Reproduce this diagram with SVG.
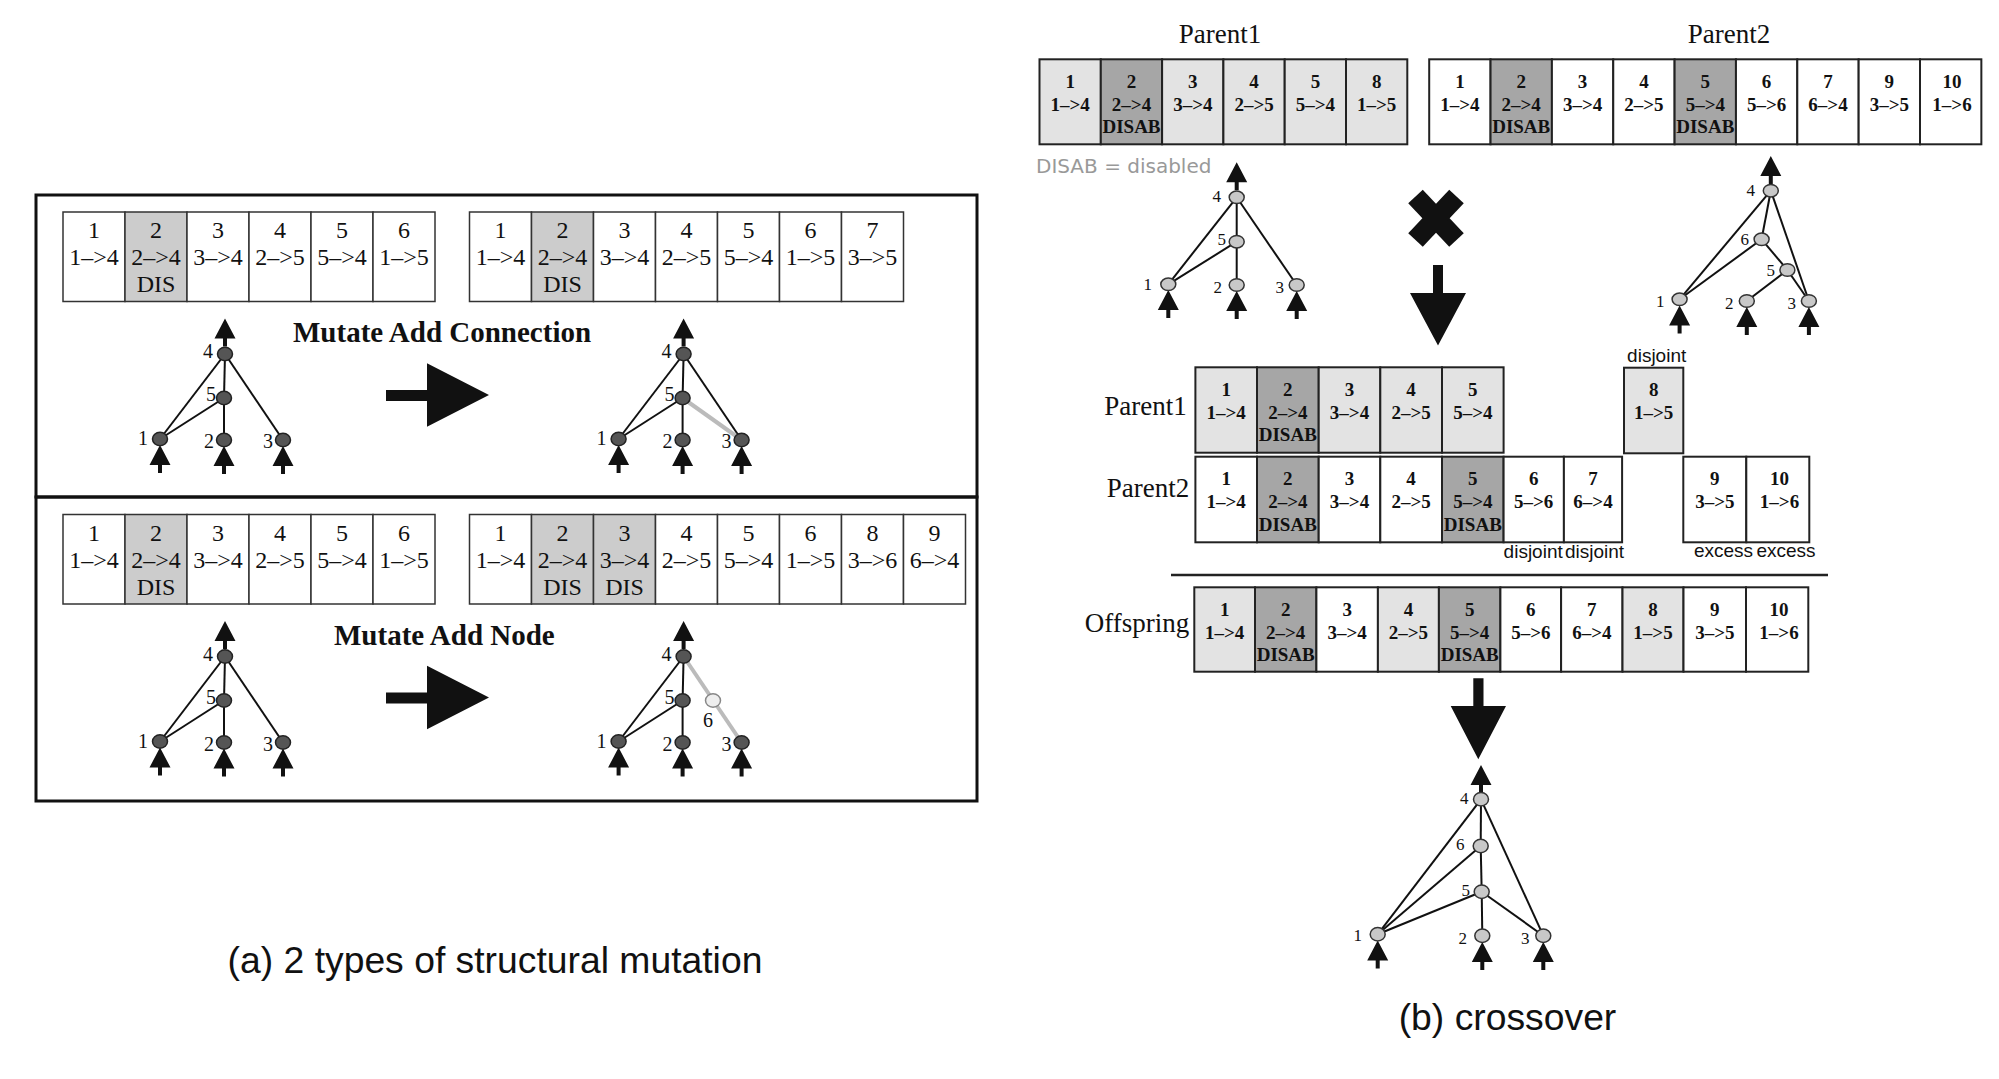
<svg xmlns="http://www.w3.org/2000/svg" xmlns:xlink="http://www.w3.org/1999/xlink" width="1999" height="1079" viewBox="0 0 1999 1079">
<style>
.bg{fill:#fff}
.cl{stroke:#333;stroke-width:1.5}
.cr{stroke:#222;stroke-width:2}
.w{fill:#fff}.g{fill:#ccc}.lg{fill:#e3e3e3}.dg{fill:#a6a6a6}
.tl{font-family:"Liberation Serif",serif;font-size:24px;text-anchor:middle;fill:#111}
.tr{font-family:"Liberation Serif",serif;font-weight:bold;font-size:19px;text-anchor:middle;fill:#111}
.ttl{font-family:"Liberation Serif",serif;font-size:27px;text-anchor:middle;fill:#111}
.mut{font-family:"Liberation Serif",serif;font-weight:bold;font-size:29px;fill:#111}
.nl{font-family:"Liberation Serif",serif;font-size:20px;text-anchor:end;fill:#111}
.nr{font-family:"Liberation Serif",serif;font-size:17px;text-anchor:end;fill:#111}
.lab{font-family:"Liberation Sans",Arial,sans-serif;font-size:19px;text-anchor:middle;fill:#111}
.cap{font-family:"Liberation Sans",Arial,sans-serif;font-size:37.3px;text-anchor:middle;fill:#111}
.e{stroke:#111;stroke-width:2;fill:none}
.ge{stroke:#bbb;stroke-width:4;fill:none}
.nd{fill:#555;stroke:#222;stroke-width:1.5}
.nn{fill:#eee;stroke:#888;stroke-width:1.5}
.ng{fill:#c8c8c8;stroke:#333;stroke-width:1.5}
.k{fill:#111}
</style>
<defs>
<path id="ua" d="M0,0 L10.5,20 L2,20 L2,28 L-2,28 L-2,20 L-10.5,20 Z" fill="#111"/>
</defs>
<rect class="bg" x="0" y="0" width="1999" height="1079"/>

<!-- LEFT PANEL frame -->
<g id="frame-a" fill="none" stroke="#111" stroke-width="3">
<rect x="36" y="195" width="941" height="302"/>
<rect x="36" y="497" width="941" height="304"/>
</g>

<!-- Left top genome A -->
<g id="genome-a1">
<rect class="cl w" x="63" y="212" width="62" height="89.5"/>
<rect class="cl g" x="125" y="212" width="62" height="89.5"/>
<rect class="cl w" x="187" y="212" width="62" height="89.5"/>
<rect class="cl w" x="249" y="212" width="62" height="89.5"/>
<rect class="cl w" x="311" y="212" width="62" height="89.5"/>
<rect class="cl w" x="373" y="212" width="62" height="89.5"/>
<text class="tl" x="94" y="238">1</text><text class="tl" x="94" y="265">1–&gt;4</text>
<text class="tl" x="156" y="238">2</text><text class="tl" x="156" y="265">2–&gt;4</text><text class="tl" x="156" y="292">DIS</text>
<text class="tl" x="218" y="238">3</text><text class="tl" x="218" y="265">3–&gt;4</text>
<text class="tl" x="280" y="238">4</text><text class="tl" x="280" y="265">2–&gt;5</text>
<text class="tl" x="342" y="238">5</text><text class="tl" x="342" y="265">5–&gt;4</text>
<text class="tl" x="404" y="238">6</text><text class="tl" x="404" y="265">1–&gt;5</text>
</g>

<!-- Left top genome B -->
<g id="genome-a2">
<rect class="cl w" x="469.5" y="212" width="62" height="89.5"/>
<rect class="cl g" x="531.5" y="212" width="62" height="89.5"/>
<rect class="cl w" x="593.5" y="212" width="62" height="89.5"/>
<rect class="cl w" x="655.5" y="212" width="62" height="89.5"/>
<rect class="cl w" x="717.5" y="212" width="62" height="89.5"/>
<rect class="cl w" x="779.5" y="212" width="62" height="89.5"/>
<rect class="cl w" x="841.5" y="212" width="62" height="89.5"/>
<text class="tl" x="500.5" y="238">1</text><text class="tl" x="500.5" y="265">1–&gt;4</text>
<text class="tl" x="562.5" y="238">2</text><text class="tl" x="562.5" y="265">2–&gt;4</text><text class="tl" x="562.5" y="292">DIS</text>
<text class="tl" x="624.5" y="238">3</text><text class="tl" x="624.5" y="265">3–&gt;4</text>
<text class="tl" x="686.5" y="238">4</text><text class="tl" x="686.5" y="265">2–&gt;5</text>
<text class="tl" x="748.5" y="238">5</text><text class="tl" x="748.5" y="265">5–&gt;4</text>
<text class="tl" x="810.5" y="238">6</text><text class="tl" x="810.5" y="265">1–&gt;5</text>
<text class="tl" x="872.5" y="238">7</text><text class="tl" x="872.5" y="265">3–&gt;5</text>
</g>

<!-- Left bottom genome A -->
<g id="genome-a3">
<rect class="cl w" x="63" y="514.5" width="62" height="89.5"/>
<rect class="cl g" x="125" y="514.5" width="62" height="89.5"/>
<rect class="cl w" x="187" y="514.5" width="62" height="89.5"/>
<rect class="cl w" x="249" y="514.5" width="62" height="89.5"/>
<rect class="cl w" x="311" y="514.5" width="62" height="89.5"/>
<rect class="cl w" x="373" y="514.5" width="62" height="89.5"/>
<text class="tl" x="94" y="540.5">1</text><text class="tl" x="94" y="567.5">1–&gt;4</text>
<text class="tl" x="156" y="540.5">2</text><text class="tl" x="156" y="567.5">2–&gt;4</text><text class="tl" x="156" y="594.5">DIS</text>
<text class="tl" x="218" y="540.5">3</text><text class="tl" x="218" y="567.5">3–&gt;4</text>
<text class="tl" x="280" y="540.5">4</text><text class="tl" x="280" y="567.5">2–&gt;5</text>
<text class="tl" x="342" y="540.5">5</text><text class="tl" x="342" y="567.5">5–&gt;4</text>
<text class="tl" x="404" y="540.5">6</text><text class="tl" x="404" y="567.5">1–&gt;5</text>
</g>

<!-- Left bottom genome B -->
<g id="genome-a4">
<rect class="cl w" x="469.5" y="514.5" width="62" height="89.5"/>
<rect class="cl g" x="531.5" y="514.5" width="62" height="89.5"/>
<rect class="cl g" x="593.5" y="514.5" width="62" height="89.5"/>
<rect class="cl w" x="655.5" y="514.5" width="62" height="89.5"/>
<rect class="cl w" x="717.5" y="514.5" width="62" height="89.5"/>
<rect class="cl w" x="779.5" y="514.5" width="62" height="89.5"/>
<rect class="cl w" x="841.5" y="514.5" width="62" height="89.5"/>
<rect class="cl w" x="903.5" y="514.5" width="62" height="89.5"/>
<text class="tl" x="500.5" y="540.5">1</text><text class="tl" x="500.5" y="567.5">1–&gt;4</text>
<text class="tl" x="562.5" y="540.5">2</text><text class="tl" x="562.5" y="567.5">2–&gt;4</text><text class="tl" x="562.5" y="594.5">DIS</text>
<text class="tl" x="624.5" y="540.5">3</text><text class="tl" x="624.5" y="567.5">3–&gt;4</text><text class="tl" x="624.5" y="594.5">DIS</text>
<text class="tl" x="686.5" y="540.5">4</text><text class="tl" x="686.5" y="567.5">2–&gt;5</text>
<text class="tl" x="748.5" y="540.5">5</text><text class="tl" x="748.5" y="567.5">5–&gt;4</text>
<text class="tl" x="810.5" y="540.5">6</text><text class="tl" x="810.5" y="567.5">1–&gt;5</text>
<text class="tl" x="872.5" y="540.5">8</text><text class="tl" x="872.5" y="567.5">3–&gt;6</text>
<text class="tl" x="934.5" y="540.5">9</text><text class="tl" x="934.5" y="567.5">6–&gt;4</text>
</g>

<text id="t-mac" class="mut" x="293" y="342">Mutate Add Connection</text>
<text id="t-man" class="mut" x="334" y="644.5">Mutate Add Node</text>

<!-- RIGHT PANEL genomes -->
<text class="ttl" x="1220" y="43">Parent1</text>
<text class="ttl" x="1729" y="43">Parent2</text>
<g id="genome-p1">
<rect class="cr lg" x="1039.5" y="59.3" width="61.3" height="85"/>
<rect class="cr dg" x="1100.8" y="59.3" width="61.3" height="85"/>
<rect class="cr lg" x="1162.1" y="59.3" width="61.3" height="85"/>
<rect class="cr lg" x="1223.4" y="59.3" width="61.3" height="85"/>
<rect class="cr lg" x="1284.7" y="59.3" width="61.3" height="85"/>
<rect class="cr lg" x="1346" y="59.3" width="61.3" height="85"/>
<text class="tr" x="1070.2" y="88">1</text><text class="tr" x="1070.2" y="110.5">1–&gt;4</text>
<text class="tr" x="1131.5" y="88">2</text><text class="tr" x="1131.5" y="110.5">2–&gt;4</text><text class="tr" x="1131.5" y="133">DISAB</text>
<text class="tr" x="1192.8" y="88">3</text><text class="tr" x="1192.8" y="110.5">3–&gt;4</text>
<text class="tr" x="1254.1" y="88">4</text><text class="tr" x="1254.1" y="110.5">2–&gt;5</text>
<text class="tr" x="1315.4" y="88">5</text><text class="tr" x="1315.4" y="110.5">5–&gt;4</text>
<text class="tr" x="1376.7" y="88">8</text><text class="tr" x="1376.7" y="110.5">1–&gt;5</text>
</g>
<g id="genome-p2">
<rect class="cr w" x="1429.2" y="59.3" width="61.35" height="85"/>
<rect class="cr dg" x="1490.55" y="59.3" width="61.35" height="85"/>
<rect class="cr w" x="1551.9" y="59.3" width="61.35" height="85"/>
<rect class="cr w" x="1613.25" y="59.3" width="61.35" height="85"/>
<rect class="cr dg" x="1674.6" y="59.3" width="61.35" height="85"/>
<rect class="cr w" x="1735.95" y="59.3" width="61.35" height="85"/>
<rect class="cr w" x="1797.3" y="59.3" width="61.35" height="85"/>
<rect class="cr w" x="1858.65" y="59.3" width="61.35" height="85"/>
<rect class="cr w" x="1920" y="59.3" width="61.35" height="85"/>
<text class="tr" x="1459.9" y="88">1</text><text class="tr" x="1459.9" y="110.5">1–&gt;4</text>
<text class="tr" x="1521.2" y="88">2</text><text class="tr" x="1521.2" y="110.5">2–&gt;4</text><text class="tr" x="1521.2" y="133">DISAB</text>
<text class="tr" x="1582.6" y="88">3</text><text class="tr" x="1582.6" y="110.5">3–&gt;4</text>
<text class="tr" x="1643.9" y="88">4</text><text class="tr" x="1643.9" y="110.5">2–&gt;5</text>
<text class="tr" x="1705.3" y="88">5</text><text class="tr" x="1705.3" y="110.5">5–&gt;4</text><text class="tr" x="1705.3" y="133">DISAB</text>
<text class="tr" x="1766.6" y="88">6</text><text class="tr" x="1766.6" y="110.5">5–&gt;6</text>
<text class="tr" x="1828" y="88">7</text><text class="tr" x="1828" y="110.5">6–&gt;4</text>
<text class="tr" x="1889.3" y="88">9</text><text class="tr" x="1889.3" y="110.5">3–&gt;5</text>
<text class="tr" x="1952" y="88">10</text><text class="tr" x="1952" y="110.5">1–&gt;6</text>
</g>
<text id="t-disab" x="1036" y="173" font-family="DejaVu Sans, sans-serif" font-size="20" fill="#999">DISAB = disabled</text>

<!-- middle aligned genomes -->
<text class="ttl" x="1145.4" y="415">Parent1</text>
<text class="ttl" x="1148" y="497">Parent2</text>
<g id="genome-m1">
<rect class="cr lg" x="1195.4" y="367.3" width="61.6" height="85.4"/>
<rect class="cr dg" x="1257" y="367.3" width="61.7" height="85.4"/>
<rect class="cr lg" x="1318.7" y="367.3" width="61.6" height="85.4"/>
<rect class="cr lg" x="1380.3" y="367.3" width="61.7" height="85.4"/>
<rect class="cr lg" x="1442" y="367.3" width="61.6" height="85.4"/>
<text class="tr" x="1226.2" y="396">1</text><text class="tr" x="1226.2" y="418.8">1–&gt;4</text>
<text class="tr" x="1287.8" y="396">2</text><text class="tr" x="1287.8" y="418.8">2–&gt;4</text><text class="tr" x="1287.8" y="441.3">DISAB</text>
<text class="tr" x="1349.5" y="396">3</text><text class="tr" x="1349.5" y="418.8">3–&gt;4</text>
<text class="tr" x="1411.1" y="396">4</text><text class="tr" x="1411.1" y="418.8">2–&gt;5</text>
<text class="tr" x="1472.8" y="396">5</text><text class="tr" x="1472.8" y="418.8">5–&gt;4</text>
</g>
<g id="gene-m1-8">
<text class="lab" x="1656.7" y="361.7">disjoint</text>
<rect class="cr lg" x="1624" y="367.7" width="59.3" height="85.6"/>
<text class="tr" x="1653.7" y="396">8</text><text class="tr" x="1653.7" y="418.8">1–&gt;5</text>
</g>
<g id="genome-m2">
<rect class="cr w" x="1195.4" y="456.7" width="61.6" height="85.6"/>
<rect class="cr dg" x="1257" y="456.7" width="61.7" height="85.6"/>
<rect class="cr w" x="1318.7" y="456.7" width="61.6" height="85.6"/>
<rect class="cr w" x="1380.3" y="456.7" width="61.7" height="85.6"/>
<rect class="cr dg" x="1442" y="456.7" width="61.6" height="85.6"/>
<rect class="cr w" x="1503.6" y="456.7" width="60.3" height="85.6"/>
<rect class="cr w" x="1563.9" y="456.7" width="58.2" height="85.6"/>
<text class="tr" x="1226.2" y="485.4">1</text><text class="tr" x="1226.2" y="508.2">1–&gt;4</text>
<text class="tr" x="1287.8" y="485.4">2</text><text class="tr" x="1287.8" y="508.2">2–&gt;4</text><text class="tr" x="1287.8" y="530.7">DISAB</text>
<text class="tr" x="1349.5" y="485.4">3</text><text class="tr" x="1349.5" y="508.2">3–&gt;4</text>
<text class="tr" x="1411.1" y="485.4">4</text><text class="tr" x="1411.1" y="508.2">2–&gt;5</text>
<text class="tr" x="1472.8" y="485.4">5</text><text class="tr" x="1472.8" y="508.2">5–&gt;4</text><text class="tr" x="1472.8" y="530.7">DISAB</text>
<text class="tr" x="1533.7" y="485.4">6</text><text class="tr" x="1533.7" y="508.2">5–&gt;6</text>
<text class="tr" x="1593" y="485.4">7</text><text class="tr" x="1593" y="508.2">6–&gt;4</text>
<text class="lab" x="1533.2" y="558.3">disjoint</text>
<text class="lab" x="1594.5" y="558.3">disjoint</text>
</g>
<g id="genome-m2-excess">
<rect class="cr w" x="1683.3" y="456.7" width="63" height="85.6"/>
<rect class="cr w" x="1746.3" y="456.7" width="63" height="85.6"/>
<text class="tr" x="1714.8" y="485.4">9</text><text class="tr" x="1714.8" y="508.2">3–&gt;5</text>
<text class="tr" x="1779.5" y="485.4">10</text><text class="tr" x="1779.5" y="508.2">1–&gt;6</text>
<text class="lab" x="1723.5" y="556.7">excess</text>
<text class="lab" x="1786" y="556.7">excess</text>
</g>
<line id="sep" x1="1171" y1="575" x2="1828" y2="575" stroke="#222" stroke-width="2.5"/>

<text class="ttl" x="1137" y="631.7">Offspring</text>
<g id="genome-off">
<rect class="cr lg" x="1194.3" y="587.3" width="60.7" height="84.4"/>
<rect class="cr dg" x="1255" y="587.3" width="61.4" height="84.4"/>
<rect class="cr w" x="1316.4" y="587.3" width="61.5" height="84.4"/>
<rect class="cr lg" x="1377.9" y="587.3" width="61" height="84.4"/>
<rect class="cr dg" x="1438.9" y="587.3" width="61.5" height="84.4"/>
<rect class="cr w" x="1500.4" y="587.3" width="60.7" height="84.4"/>
<rect class="cr w" x="1561.1" y="587.3" width="61.4" height="84.4"/>
<rect class="cr lg" x="1622.5" y="587.3" width="61" height="84.4"/>
<rect class="cr w" x="1683.5" y="587.3" width="62.5" height="84.4"/>
<rect class="cr w" x="1746" y="587.3" width="62.3" height="84.4"/>
<text class="tr" x="1224.7" y="616">1</text><text class="tr" x="1224.7" y="638.8">1–&gt;4</text>
<text class="tr" x="1285.7" y="616">2</text><text class="tr" x="1285.7" y="638.8">2–&gt;4</text><text class="tr" x="1285.7" y="661.3">DISAB</text>
<text class="tr" x="1347.2" y="616">3</text><text class="tr" x="1347.2" y="638.8">3–&gt;4</text>
<text class="tr" x="1408.4" y="616">4</text><text class="tr" x="1408.4" y="638.8">2–&gt;5</text>
<text class="tr" x="1469.7" y="616">5</text><text class="tr" x="1469.7" y="638.8">5–&gt;4</text><text class="tr" x="1469.7" y="661.3">DISAB</text>
<text class="tr" x="1530.8" y="616">6</text><text class="tr" x="1530.8" y="638.8">5–&gt;6</text>
<text class="tr" x="1591.8" y="616">7</text><text class="tr" x="1591.8" y="638.8">6–&gt;4</text>
<text class="tr" x="1653" y="616">8</text><text class="tr" x="1653" y="638.8">1–&gt;5</text>
<text class="tr" x="1714.8" y="616">9</text><text class="tr" x="1714.8" y="638.8">3–&gt;5</text>
<text class="tr" x="1779" y="616">10</text><text class="tr" x="1779" y="638.8">1–&gt;6</text>
</g>

<!-- CONNECTORS: network edges and arrows -->
<g id="connectors">
<!-- L1 -->
<line class="e" x1="225" y1="354" x2="160" y2="439"/>
<line class="e" x1="225" y1="354" x2="224" y2="398"/>
<line class="e" x1="225" y1="354" x2="283" y2="440"/>
<line class="e" x1="224" y1="398" x2="160" y2="439"/>
<line class="e" x1="224" y1="398" x2="224" y2="440"/>
<!-- L2 -->
<line class="e" x1="683.6" y1="354" x2="618.6" y2="439"/>
<line class="e" x1="683.6" y1="354" x2="682.6" y2="398"/>
<line class="e" x1="683.6" y1="354" x2="741.6" y2="440"/>
<line class="e" x1="682.6" y1="398" x2="618.6" y2="439"/>
<line class="e" x1="682.6" y1="398" x2="682.6" y2="440"/>
<line class="ge" x1="682.6" y1="398" x2="741.6" y2="440"/>
<!-- L3 -->
<line class="e" x1="225" y1="656.5" x2="160" y2="741.5"/>
<line class="e" x1="225" y1="656.5" x2="224" y2="700.5"/>
<line class="e" x1="225" y1="656.5" x2="283" y2="742.5"/>
<line class="e" x1="224" y1="700.5" x2="160" y2="741.5"/>
<line class="e" x1="224" y1="700.5" x2="224" y2="742.5"/>
<!-- L4 -->
<line class="e" x1="683.6" y1="656.5" x2="618.6" y2="741.5"/>
<line class="e" x1="683.6" y1="656.5" x2="682.6" y2="700.5"/>
<line class="ge" x1="683.6" y1="656.5" x2="741.6" y2="742.5"/>
<line class="e" x1="682.6" y1="700.5" x2="618.6" y2="741.5"/>
<line class="e" x1="682.6" y1="700.5" x2="682.6" y2="742.5"/>
<!-- P1 net -->
<line class="e" x1="1236.7" y1="197.3" x2="1168.3" y2="284.3"/>
<line class="e" x1="1236.7" y1="197.3" x2="1236.7" y2="241.7"/>
<line class="e" x1="1236.7" y1="197.3" x2="1296.7" y2="285"/>
<line class="e" x1="1236.7" y1="241.7" x2="1168.3" y2="284.3"/>
<line class="e" x1="1236.7" y1="241.7" x2="1236.7" y2="285"/>
<!-- P2 net -->
<line class="e" x1="1770.8" y1="190.7" x2="1679.6" y2="299.3"/>
<line class="e" x1="1770.8" y1="190.7" x2="1761.6" y2="239.3"/>
<line class="e" x1="1770.8" y1="190.7" x2="1808.9" y2="301"/>
<line class="e" x1="1761.6" y1="239.3" x2="1679.6" y2="299.3"/>
<line class="e" x1="1761.6" y1="239.3" x2="1787.4" y2="270"/>
<line class="e" x1="1787.4" y1="270" x2="1746.8" y2="301"/>
<line class="e" x1="1787.4" y1="270" x2="1808.9" y2="301"/>
<!-- Offspring net -->
<line class="e" x1="1481" y1="799.3" x2="1377.7" y2="934.3"/>
<line class="e" x1="1481" y1="799.3" x2="1480.7" y2="846"/>
<line class="e" x1="1481" y1="799.3" x2="1543.3" y2="935.7"/>
<line class="e" x1="1480.7" y1="846" x2="1377.7" y2="934.3"/>
<line class="e" x1="1480.7" y1="846" x2="1481.7" y2="891.7"/>
<line class="e" x1="1481.7" y1="891.7" x2="1377.7" y2="934.3"/>
<line class="e" x1="1481.7" y1="891.7" x2="1482.3" y2="935.7"/>
<line class="e" x1="1481.7" y1="891.7" x2="1543.3" y2="935.7"/>

<!-- small io arrows -->
<use href="#ua" x="225" y="318.5"/><use href="#ua" x="160" y="445"/><use href="#ua" x="224" y="446"/><use href="#ua" x="283" y="446"/>
<use href="#ua" x="683.6" y="318.5"/><use href="#ua" x="618.6" y="445"/><use href="#ua" x="682.6" y="446"/><use href="#ua" x="741.6" y="446"/>
<use href="#ua" x="225" y="621"/><use href="#ua" x="160" y="747.5"/><use href="#ua" x="224" y="748.5"/><use href="#ua" x="283" y="748.5"/>
<use href="#ua" x="683.6" y="621"/><use href="#ua" x="618.6" y="747.5"/><use href="#ua" x="682.6" y="748.5"/><use href="#ua" x="741.6" y="748.5"/>
<use href="#ua" x="1236.7" y="162.3"/><use href="#ua" x="1168.3" y="290"/><use href="#ua" x="1236.7" y="291"/><use href="#ua" x="1296.7" y="291"/>
<use href="#ua" x="1770.8" y="156"/><use href="#ua" x="1679.6" y="305.5"/><use href="#ua" x="1746.8" y="307"/><use href="#ua" x="1808.9" y="307"/>
<use href="#ua" x="1481" y="765"/><use href="#ua" x="1377.7" y="940.5"/><use href="#ua" x="1482.3" y="942"/><use href="#ua" x="1543.3" y="942"/>

<!-- big arrows -->
<path class="k" d="M386,390 H427 V363.3 L489,395 L427,426.7 V401 H386 Z"/>
<path class="k" d="M386,692.5 H427 V665.8 L489,697.5 L427,729.2 V703.5 H386 Z"/>
<path class="k" d="M1433,265 H1443 V293 H1466 L1438,345.5 L1410,293 H1433 Z"/>
<path class="k" d="M1473.3,678.3 H1483.5 V706 H1506 L1478.3,759.3 L1450.7,706 H1473.3 Z"/>
</g>

<!-- cross mark -->
<g id="cross" stroke="#111" stroke-width="20">
<line x1="1415.5" y1="196.5" x2="1456.5" y2="240"/>
<line x1="1456.5" y1="196.5" x2="1415.5" y2="240"/>
</g>

<!-- NETWORK NODES -->
<g id="net-l1">
<g id="l1-n4"><ellipse class="nd" cx="225" cy="354" rx="7.5" ry="6.7"/><text class="nl" x="213" y="358">4</text></g>
<g id="l1-n5"><ellipse class="nd" cx="224" cy="398" rx="7.5" ry="6.7"/><text class="nl" x="216" y="401">5</text></g>
<g id="l1-n1"><ellipse class="nd" cx="160" cy="439" rx="7.5" ry="6.7"/><text class="nl" x="148" y="445">1</text></g>
<g id="l1-n2"><ellipse class="nd" cx="224" cy="440" rx="7.5" ry="6.7"/><text class="nl" x="214" y="448">2</text></g>
<g id="l1-n3"><ellipse class="nd" cx="283" cy="440" rx="7.5" ry="6.7"/><text class="nl" x="273" y="448">3</text></g>
</g>
<g id="net-l2">
<g id="l2-n4"><ellipse class="nd" cx="683.6" cy="354" rx="7.5" ry="6.7"/><text class="nl" x="671.6" y="358">4</text></g>
<g id="l2-n5"><ellipse class="nd" cx="682.6" cy="398" rx="7.5" ry="6.7"/><text class="nl" x="674.6" y="401">5</text></g>
<g id="l2-n1"><ellipse class="nd" cx="618.6" cy="439" rx="7.5" ry="6.7"/><text class="nl" x="606.6" y="445">1</text></g>
<g id="l2-n2"><ellipse class="nd" cx="682.6" cy="440" rx="7.5" ry="6.7"/><text class="nl" x="672.6" y="448">2</text></g>
<g id="l2-n3"><ellipse class="nd" cx="741.6" cy="440" rx="7.5" ry="6.7"/><text class="nl" x="731.6" y="448">3</text></g>
</g>
<g id="net-l3">
<g id="l3-n4"><ellipse class="nd" cx="225" cy="656.5" rx="7.5" ry="6.7"/><text class="nl" x="213" y="660.5">4</text></g>
<g id="l3-n5"><ellipse class="nd" cx="224" cy="700.5" rx="7.5" ry="6.7"/><text class="nl" x="216" y="703.5">5</text></g>
<g id="l3-n1"><ellipse class="nd" cx="160" cy="741.5" rx="7.5" ry="6.7"/><text class="nl" x="148" y="747.5">1</text></g>
<g id="l3-n2"><ellipse class="nd" cx="224" cy="742.5" rx="7.5" ry="6.7"/><text class="nl" x="214" y="750.5">2</text></g>
<g id="l3-n3"><ellipse class="nd" cx="283" cy="742.5" rx="7.5" ry="6.7"/><text class="nl" x="273" y="750.5">3</text></g>
</g>
<g id="net-l4">
<g id="l4-n4"><ellipse class="nd" cx="683.6" cy="656.5" rx="7.5" ry="6.7"/><text class="nl" x="671.6" y="660.5">4</text></g>
<g id="l4-n5"><ellipse class="nd" cx="682.6" cy="700.5" rx="7.5" ry="6.7"/><text class="nl" x="674.6" y="703.5">5</text></g>
<g id="l4-n6"><ellipse class="nn" cx="713" cy="700.5" rx="7.5" ry="6.7"/><text class="nl" x="713" y="727">6</text></g>
<g id="l4-n1"><ellipse class="nd" cx="618.6" cy="741.5" rx="7.5" ry="6.7"/><text class="nl" x="606.6" y="747.5">1</text></g>
<g id="l4-n2"><ellipse class="nd" cx="682.6" cy="742.5" rx="7.5" ry="6.7"/><text class="nl" x="672.6" y="750.5">2</text></g>
<g id="l4-n3"><ellipse class="nd" cx="741.6" cy="742.5" rx="7.5" ry="6.7"/><text class="nl" x="731.6" y="750.5">3</text></g>
</g>
<g id="net-p1">
<g id="p1-n4"><ellipse class="ng" cx="1236.7" cy="197.3" rx="7.5" ry="6.3"/><text class="nr" x="1221" y="202">4</text></g>
<g id="p1-n5"><ellipse class="ng" cx="1236.7" cy="241.7" rx="7.5" ry="6.3"/><text class="nr" x="1226" y="245">5</text></g>
<g id="p1-n1"><ellipse class="ng" cx="1168.3" cy="284.3" rx="7.5" ry="6.3"/><text class="nr" x="1152" y="290">1</text></g>
<g id="p1-n2"><ellipse class="ng" cx="1236.7" cy="285" rx="7.5" ry="6.3"/><text class="nr" x="1222" y="293">2</text></g>
<g id="p1-n3"><ellipse class="ng" cx="1296.7" cy="285" rx="7.5" ry="6.3"/><text class="nr" x="1284" y="293">3</text></g>
</g>
<g id="net-p2">
<g id="p2-n4"><ellipse class="ng" cx="1770.8" cy="190.7" rx="7.5" ry="6.3"/><text class="nr" x="1755" y="196">4</text></g>
<g id="p2-n6"><ellipse class="ng" cx="1761.6" cy="239.3" rx="7.5" ry="6.3"/><text class="nr" x="1749" y="245">6</text></g>
<g id="p2-n5"><ellipse class="ng" cx="1787.4" cy="270" rx="7.5" ry="6.3"/><text class="nr" x="1775" y="276">5</text></g>
<g id="p2-n1"><ellipse class="ng" cx="1679.6" cy="299.3" rx="7.5" ry="6.3"/><text class="nr" x="1664.5" y="306.5">1</text></g>
<g id="p2-n2"><ellipse class="ng" cx="1746.8" cy="301" rx="7.5" ry="6.3"/><text class="nr" x="1733.5" y="309">2</text></g>
<g id="p2-n3"><ellipse class="ng" cx="1808.9" cy="301" rx="7.5" ry="6.3"/><text class="nr" x="1796" y="309">3</text></g>
</g>
<g id="net-off">
<g id="o-n4"><ellipse class="ng" cx="1481" cy="799.3" rx="7.5" ry="6.7"/><text class="nr" x="1468.5" y="803.5">4</text></g>
<g id="o-n6"><ellipse class="ng" cx="1480.7" cy="846" rx="7.5" ry="6.7"/><text class="nr" x="1464.5" y="850">6</text></g>
<g id="o-n5"><ellipse class="ng" cx="1481.7" cy="891.7" rx="7.5" ry="6.7"/><text class="nr" x="1470" y="896">5</text></g>
<g id="o-n1"><ellipse class="ng" cx="1377.7" cy="934.3" rx="7.5" ry="6.7"/><text class="nr" x="1362" y="941">1</text></g>
<g id="o-n2"><ellipse class="ng" cx="1482.3" cy="935.7" rx="7.5" ry="6.7"/><text class="nr" x="1467" y="943.5">2</text></g>
<g id="o-n3"><ellipse class="ng" cx="1543.3" cy="935.7" rx="7.5" ry="6.7"/><text class="nr" x="1529.5" y="943.5">3</text></g>
</g>

<text id="cap-a" class="cap" x="495" y="973">(a) 2 types of structural mutation</text>
<text id="cap-b" class="cap" x="1507.5" y="1030">(b) crossover</text>
</svg>
